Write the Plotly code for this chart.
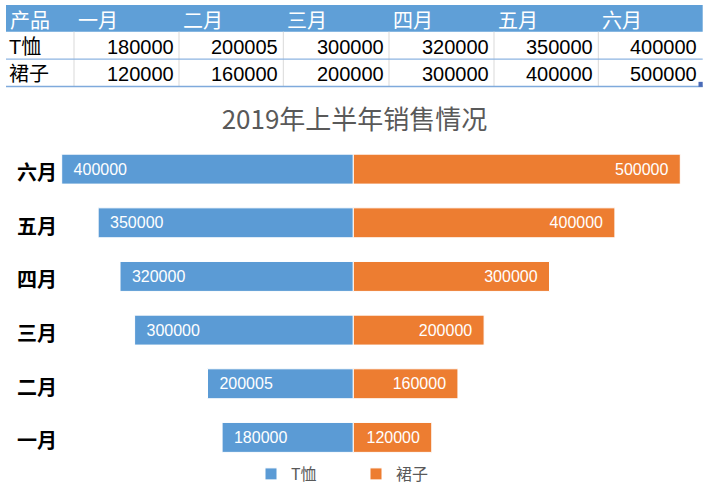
import plotly.graph_objects as go

W, H = 709, 491

# ---------------- data ----------------
months = ["一月", "二月", "三月", "四月", "五月", "六月"]
products = ["T恤", "裙子"]
tshirt = [180000, 200005, 300000, 320000, 350000, 400000]
skirt = [120000, 160000, 200000, 300000, 400000, 500000]
table_header = ["产品"] + months
title_text = "2019年上半年销售情况"

# ---------------- style ----------------
BLUE = "#5B9BD5"
ORANGE = "#ED7D31"
GRAY_TXT = "#595959"
CJK = "Noto Sans CJK SC"
NUMF = "Liberation Sans, Noto Sans CJK SC"


def px(x):
    return x / W


def py(y):
    return 1 - y / H


fig = go.Figure()
fig.add_trace(go.Bar(
    name=products[0], y=months, x=tshirt, orientation="h",
    xaxis="x", yaxis="y",
    marker=dict(color=BLUE, line=dict(color="white", width=1)),
    text=["\u00a0\u00a0" + str(v) for v in tshirt],
    textposition="inside", insidetextanchor="end", textangle=0,
    constraintext="none",
    textfont=dict(color="white", size=16, family=NUMF),
    hoverinfo="skip",
))
fig.add_trace(go.Bar(
    name=products[1], y=months, x=skirt, orientation="h",
    xaxis="x2", yaxis="y",
    marker=dict(color=ORANGE, line=dict(color="white", width=1)),
    text=[str(v) + "\u00a0\u00a0" for v in skirt],
    textposition="inside", insidetextanchor="end", textangle=0,
    constraintext="none",
    textfont=dict(color="white", size=16, family=NUMF),
    hoverinfo="skip",
))

# ---------------- table (top of the picture) ----------------
col_edges = [6, 74, 179, 283.3, 389, 494, 598.3, 702.7]
row_edges = [5, 31.7, 59.3, 86.7]
table_rows = [tshirt, skirt]

shapes = [dict(type="rect", xref="paper", yref="paper",
               x0=px(col_edges[0]), x1=px(col_edges[-1]),
               y0=py(row_edges[1]), y1=py(row_edges[0]),
               fillcolor="#5F9FD7", line=dict(width=0), layer="below")]
for xe in col_edges[1:-1]:
    shapes.append(dict(type="line", xref="paper", yref="paper",
                       x0=px(xe), x1=px(xe), y0=py(row_edges[1]), y1=py(row_edges[3]),
                       line=dict(color="#D9D9D9", width=1)))
shapes.append(dict(type="line", xref="paper", yref="paper",
                   x0=px(col_edges[0]), x1=px(col_edges[-1]),
                   y0=py(row_edges[2]), y1=py(row_edges[2]),
                   line=dict(color="#8DB4E2", width=1.2)))
shapes.append(dict(type="line", xref="paper", yref="paper",
                   x0=px(col_edges[0]), x1=px(col_edges[-1]),
                   y0=py(row_edges[3]), y1=py(row_edges[3]),
                   line=dict(color="#7FAADC", width=1.5)))
shapes.append(dict(type="rect", xref="paper", yref="paper",
                   x0=px(698.5), x1=px(702.7), y0=py(87), y1=py(82),
                   fillcolor="#4A6BB8", line=dict(width=0)))

annotations = []
for i, h in enumerate(table_header):
    annotations.append(dict(
        text=h, xref="paper", yref="paper", showarrow=False,
        x=px(col_edges[i] + 2.5), xanchor="left",
        y=py((row_edges[0] + row_edges[1]) / 2 + 1.5), yanchor="middle",
        borderpad=0, font=dict(size=20, color="white", family=CJK)))
for r, (name, vals) in enumerate(zip(products, table_rows)):
    yc = py((row_edges[r + 1] + row_edges[r + 2]) / 2 + 1.2)
    annotations.append(dict(
        text=name, xref="paper", yref="paper", showarrow=False,
        x=px(col_edges[0] + 1.5), xanchor="left", y=yc, yanchor="middle",
        borderpad=0, font=dict(size=20, color="black", family=NUMF)))
    for c, v in enumerate(vals):
        annotations.append(dict(
            text=str(v), xref="paper", yref="paper", showarrow=False,
            x=px(col_edges[c + 2] - 4.5), xanchor="right", y=yc, yanchor="middle",
            borderpad=0, font=dict(size=20, color="black", family=NUMF)))

fig.update_layout(
    width=W, height=H,
    margin=dict(l=0, r=0, t=0, b=0),
    paper_bgcolor="white", plot_bgcolor="white",
    barmode="overlay", bargap=0.442,
    title=dict(text=title_text, x=0.5, xanchor="center", y=py(120), yanchor="middle",
               font=dict(size=26, color=GRAY_TXT, family=CJK)),
    xaxis=dict(domain=[px(58), px(705)], range=[405075, -482442], visible=False),
    xaxis2=dict(overlaying="x", range=[-451529, 537768], visible=False),
    yaxis=dict(domain=[py(465.2), py(142.6)], type="category",
               categoryorder="array", categoryarray=months, range=[-0.5, 5.5],
               showgrid=False, zeroline=False, showline=False, ticks="",
               ticklabelshift=4,
               tickfont=dict(size=20, color="black", family=CJK, weight="bold")),
    legend=dict(orientation="h", x=px(251), xanchor="left", y=py(475), yanchor="middle",
                font=dict(size=16, color=GRAY_TXT, family=CJK), itemwidth=30,
                entrywidth=60, entrywidthmode="pixels",
                bgcolor="rgba(0,0,0,0)"),
    showlegend=True,
    shapes=shapes,
    annotations=annotations,
)

fig.write_html("out.html")
